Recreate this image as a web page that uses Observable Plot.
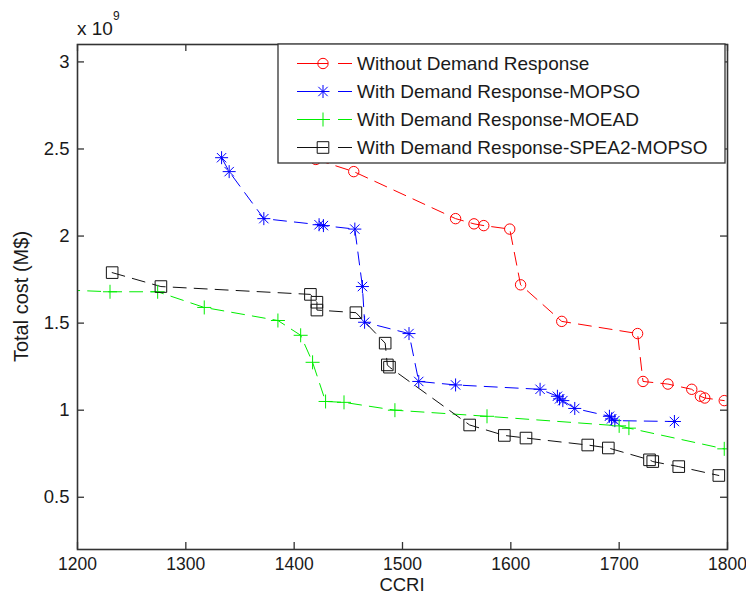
<!DOCTYPE html>
<html><head><meta charset="utf-8">
<script src="https://cdn.jsdelivr.net/npm/d3@7"></script>
<script src="https://cdn.jsdelivr.net/npm/@observablehq/plot@0.6"></script>
<style>html,body{margin:0;padding:0;background:#fff;overflow:hidden}</style>
</head><body><div id="chart"></div>
<script>
// ---- data ----
const seriesNames = [
  "Without Demand Response",
  "With Demand Response-MOPSO",
  "With Demand Response-MOEAD",
  "With Demand Response-SPEA2-MOPSO"
];
const redX = [1420, 1455, 1549, 1566, 1575, 1599, 1609, 1647, 1717, 1722, 1745, 1767, 1775, 1779, 1797];
const redY = [2.44, 2.37, 2.10, 2.07, 2.06, 2.04, 1.72, 1.51, 1.44, 1.165, 1.15, 1.12, 1.08, 1.07, 1.055];
const blueX = [1333, 1340, 1372, 1423, 1427, 1456, 1463, 1465, 1506, 1515, 1549, 1627, 1643, 1645, 1648, 1659, 1691, 1693, 1696, 1751];
const blueY = [2.45, 2.37, 2.10, 2.065, 2.06, 2.04, 1.71, 1.505, 1.44, 1.165, 1.145, 1.12, 1.08, 1.065, 1.055, 1.01, 0.965, 0.95, 0.94, 0.935];
const greenX = [1190, 1230, 1274, 1317, 1385, 1406, 1417, 1429, 1446, 1493, 1578, 1700, 1709, 1797];
const greenY = [1.69, 1.68, 1.68, 1.59, 1.515, 1.43, 1.275, 1.05, 1.045, 1.0, 0.965, 0.91, 0.897, 0.778];
const blackX = [1232, 1277, 1415, 1421, 1421, 1457, 1484, 1486, 1488, 1562, 1594, 1614, 1671, 1690, 1728, 1731, 1755, 1792];
const blackY = [1.79, 1.71, 1.665, 1.62, 1.575, 1.56, 1.385, 1.26, 1.247, 0.915, 0.855, 0.84, 0.80, 0.783, 0.715, 0.705, 0.676, 0.625];
const xTicks = [1200, 1300, 1400, 1500, 1600, 1700, 1800];
const yTicks = [0.5, 1, 1.5, 2, 2.5, 3];
const xLabel = "CCRI";
const yLabel = "Total cost (M$)";
const yExponent = "9";

// ---- layout / style ----
const W = 746, H = 596, ML = 77, MR = 19, MT = 44, MB = 47;
const PW = W - ML - MR, PH = H - MT - MB;
const TICK = 7;
const AX = "#333";
const FONT = "'Liberation Sans', Arial, Helvetica, sans-serif";
const DASH = "13,8";

// custom marker symbols (size = pi r^2)
const rad = s => Math.sqrt(s / Math.PI);
const circleSym = {draw(c, s) { const r = rad(s); c.moveTo(r, 0); c.arc(0, 0, r, 0, 2 * Math.PI); c.closePath(); }};
const squareSym = {draw(c, s) { const r = rad(s); c.moveTo(-r, -r); c.lineTo(r, -r); c.lineTo(r, r); c.lineTo(-r, r); c.closePath(); }};
const plusSym = {draw(c, s) { const r = rad(s); c.moveTo(-r, 0); c.lineTo(r, 0); c.moveTo(0, -r); c.lineTo(0, r); }};
const starSym = {draw(c, s) { const r = rad(s), d = r * 0.72;
  c.moveTo(-r, 0); c.lineTo(r, 0); c.moveTo(0, -r); c.lineTo(0, r);
  c.moveTo(-d, -d); c.lineTo(d, d); c.moveTo(-d, d); c.lineTo(d, -d); }};

const series = [
  {name: seriesNames[0], xs: redX, ys: redY, color: "#ff0000", symbol: circleSym, r: 5.2},
  {name: seriesNames[1], xs: blueX, ys: blueY, color: "#0000ff", symbol: starSym, r: 6.5},
  {name: seriesNames[2], xs: greenX, ys: greenY, color: "#00ee00", symbol: plusSym, r: 7},
  {name: seriesNames[3], xs: blackX, ys: blackY, color: "#111111", symbol: squareSym, r: 5.8}
];
const rows = series.flatMap(s => s.xs.map((x, i) => ({series: s.name, x, y: s.ys[i]})));

const marks = [];
for (const s of series) {
  const d = rows.filter(r => r.series === s.name);
  marks.push(Plot.line(d, {x: "x", y: "y", stroke: s.color, strokeWidth: 1, strokeDasharray: DASH, clip: true}));
}
for (const s of series) {
  const d = rows.filter(r => r.series === s.name);
  marks.push(Plot.dot(d, {x: "x", y: "y", symbol: s.symbol, r: s.r, stroke: s.color, fill: "none", strokeWidth: 1, clip: true}));
}
marks.push(
  Plot.tickY(yTicks, {y: d => d, insetRight: PW - TICK, stroke: AX, strokeWidth: 1.3}),
  Plot.tickY(yTicks, {y: d => d, insetLeft: PW - TICK, stroke: AX, strokeWidth: 1.3}),
  Plot.tickX(xTicks, {x: d => d, insetTop: PH - TICK, stroke: AX, strokeWidth: 1.3}),
  Plot.tickX(xTicks, {x: d => d, insetBottom: PH - TICK, stroke: AX, strokeWidth: 1.3}),
  Plot.axisX(xTicks, {anchor: "bottom", tickSize: 0, tickPadding: 8, tickFormat: d => String(d), label: null, fill: "#1a1a1a", fontSize: 17.5}),
  Plot.axisY(yTicks, {anchor: "left", tickSize: 0, tickPadding: 8, tickFormat: d => String(d), label: null, fill: "#1a1a1a", fontSize: 18.5}),
  Plot.frame({stroke: AX, strokeWidth: 1.6})
);

const svg = Plot.plot({
  width: W, height: H,
  marginLeft: ML, marginRight: MR, marginTop: MT, marginBottom: MB,
  x: {domain: [1200, 1800], label: null},
  y: {domain: [0.2, 3.1], label: null},
  style: {fontFamily: FONT, fontSize: "19px", background: "#fff", color: "#1a1a1a"},
  marks
});
document.getElementById("chart").appendChild(svg);

// ---- annotations ----
const g = d3.select(svg).append("g").attr("font-family", FONT).attr("fill", "#1a1a1a");
// exponent
const ex = g.append("text").attr("x", ML).attr("y", 35).attr("text-anchor", "start").attr("font-size", 19).text("x 10");
ex.append("tspan").attr("font-size", 12).attr("dy", -15).text(yExponent);
// axis labels
g.append("text").attr("x", ML + PW / 2).attr("y", 591).attr("text-anchor", "middle").attr("font-size", 18.5).text(xLabel);
g.append("text").attr("transform", `translate(28,${MT + PH / 2}) rotate(-90)`).attr("text-anchor", "middle").attr("font-size", 20).text(yLabel);

// legend
const LX = 278, LY = MT, LW = 447, LH = 119;
const leg = d3.select(svg).append("g").attr("font-family", FONT);
leg.append("rect").attr("x", LX).attr("y", LY).attr("width", LW).attr("height", LH)
  .attr("fill", "#fff").attr("stroke", AX).attr("stroke-width", 1.3);
series.forEach((s, i) => {
  const yy = LY + 19.5 + i * 28;
  leg.append("line").attr("x1", LX + 19).attr("x2", LX + 50).attr("y1", yy).attr("y2", yy).attr("stroke", s.color).attr("stroke-width", 1);
  leg.append("line").attr("x1", LX + 60).attr("x2", LX + 74).attr("y1", yy).attr("y2", yy).attr("stroke", s.color).attr("stroke-width", 1);
  leg.append("path").attr("transform", `translate(${LX + 45},${yy})`)
    .attr("d", d3.symbol(s.symbol, Math.PI * s.r * s.r)())
    .attr("fill", "none").attr("stroke", s.color).attr("stroke-width", 1);
  leg.append("text").attr("x", LX + 79).attr("y", yy).attr("dy", "0.36em").attr("text-anchor", "start")
    .attr("font-size", 19).attr("fill", "#1a1a1a").text(s.name);
});
</script>
</body></html>
